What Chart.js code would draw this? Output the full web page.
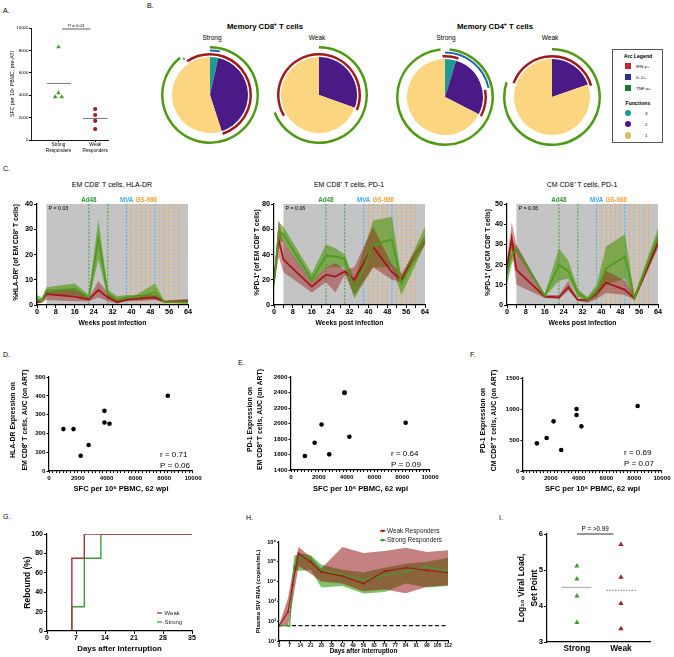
<!DOCTYPE html>
<html>
<head>
<meta charset="utf-8">
<script src="https://cdn.jsdelivr.net/npm/chart.js@4.4.1/dist/chart.umd.min.js"></script>
<style>
  html, body { margin: 0; padding: 0; background: #fff; }
  body { position: relative; width: 674px; height: 657px; overflow: hidden; color: #000; }
  canvas { position: absolute; }
  .t { position: absolute; white-space: nowrap; line-height: 1; }
  .box { position: absolute; border: 1px solid #555; box-sizing: border-box; }
  .sw { position: absolute; }
</style>
</head>
<body>
<script>
// ---------- data ----------

// A. SFC per 10^6 PBMC before ATI
const aGroups = [['Strong', 'Responders'], ['Weak', 'Responders']];
const aStrongSfc = [8300, 4200, 3850, 3850];
const aWeakSfc = [2770, 2230, 1700, 980];
const aTicks = [0, 2000, 4000, 6000, 8000, 10000];
const aPValue = 'P = 0.03';

// B. functional profile pies (% of cells with 3 / 2 / 1 functions)
const functionLabels = ['3', '2', '1'];
const arcLabels = ['IFN-γ+', 'IL-2+', 'TNF-α+'];
const cd8StrongPie = [3.5, 41.5, 55];
const cd8WeakPie = [0, 30.5, 69.5];
const cd4StrongPie = [4.7, 27.8, 67.5];
const cd4WeakPie = [0, 19.7, 80.3];
// arcs: [from, to] in % of cells around the pie
const cd8StrongIfn = [[90.5, 45]];
const cd8StrongIl2 = [[0, 3.5], [89.8, 90.3]];
const cd8StrongTnf = [[0, 89.2]];
const cd8WeakIfn = [[66.5, 31]];
const cd8WeakIl2 = [];
const cd8WeakTnf = [[0, 69]];
const cd4StrongIfn = [[99, 5.3], [22.2, 32.8]];
const cd4StrongIl2 = [[0, 21.7]];
const cd4StrongTnf = [[1.5, 98.5]];
const cd4WeakIfn = [[80.5, 20.5]];
const cd4WeakIl2 = [];
const cd4WeakTnf = [[0, 80]];

// C. time courses (weeks post infection)
const weekTicks = [0, 8, 16, 24, 32, 40, 48, 56, 64];
const artWeeks = [4, 64];
const ad48Weeks = [22, 30];
const mvaWeeks = [38, 50];
const gsWeeks = [40, 42, 44, 46, 48, 52, 54, 56, 58, 60];
const treatNames = ['Ad48', 'MVA', 'GS-986'];

const hlaWeeks = [0, 2, 4, 16, 22, 26, 30, 34, 38, 42, 50, 54, 64];
const hlaStrong = [2.2, 1.5, 5.5, 6.5, 3, 26.5, 4.5, 2, 3, 3, 5, 1.2, 1];
const hlaStrongHi = [4, 3, 7, 8.5, 4, 34, 6, 3.5, 4, 4, 8.5, 1.5, 1.8];
const hlaStrongLo = [1, 1, 4, 4, 2, 18, 3, 1, 2, 2, 2.5, 1, 0.5];
const hlaWeak = [1, 1.5, 4.3, 3.3, 2.2, 6, 3, 1.2, 2, 2.5, 3, 1.3, 1.5];
const hlaWeakHi = [1.5, 2.5, 6, 6, 3, 9.5, 5, 2, 3, 4, 4, 1.7, 2.5];
const hlaWeakLo = [0.5, 1, 2, 1.5, 1.5, 3, 1.5, 0.5, 1.5, 1.5, 2, 1, 1];
const hlaTicks = [0, 10, 20, 30, 40];

const pdEmWeeks = [0, 2, 4, 16, 22, 26, 30, 34, 42, 50, 54, 64];
const pdEmStrong = [17, 58, 56, 20, 39, 38.5, 36.5, 11, 47.5, 52, 17, 53];
const pdEmStrongHi = [22, 66, 62, 25, 48, 45, 40, 20, 67, 70, 22, 62];
const pdEmStrongLo = [12, 50, 50, 17, 30, 30, 30, 5, 30, 30, 8, 48];
const pdEmWeak = [20, 51.5, 36, 14.6, 24, 22.5, 26.5, 20, 46, 26, 20, 52];
const pdEmWeakHi = [24, 68, 50, 18, 30, 33, 28, 30, 62, 32, 25, 55];
const pdEmWeakLo = [16, 38, 26, 10, 18, 10, 24, 8, 30, 20, 18, 48];
const pdEmTicks = [0, 20, 40, 60, 80];

const pdCmWeeks = [0, 2, 4, 16, 22, 26, 30, 34, 38, 42, 50, 54, 64];
const pdCmStrong = [15.7, 24.8, 27.6, 4.5, 19.9, 16.6, 6.1, 2.8, 6.6, 18.2, 24, 3.3, 34];
const pdCmStrongHi = [20, 32, 29, 5.5, 28, 22, 8, 4, 10, 29, 35, 5, 38];
const pdCmStrongLo = [10, 20, 26, 4, 12, 13, 4, 1.5, 4, 10, 13, 2, 30];
const pdCmWeak = [19, 33, 17.4, 4.1, 3.8, 8.8, 2.5, 2.5, 5.8, 11, 7.5, 3.3, 30.6];
const pdCmWeakHi = [22, 41, 30, 5, 5, 12, 3, 3, 8, 17, 12, 5, 33];
const pdCmWeakLo = [15, 28, 10, 3.5, 3, 7, 2, 1, 3, 6, 5, 2.5, 28];
const pdCmTicks = [0, 10, 20, 30, 40, 50];
const cPValues = ['P = 0.03', 'P = 0.06', 'P = 0.06'];

// D-F. AUC on ART vs SFC at 62 wpi
const sfc62 = [1000, 1700, 2200, 2750, 3850, 3850, 4200, 8250];
const hlaAuc = [223, 223, 81, 138, 320, 258, 251, 400];
const pdEmAuc = [1580, 1752, 1988, 1602, 2400, 2395, 1829, 2009];
const pdCmAuc = [446, 532, 801, 339, 1000, 903, 720, 1048];
const sfcTicks = [0, 2000, 4000, 6000, 8000, 10000];
const hlaAucTicks = [0, 100, 200, 300, 400, 500];
const pdEmAucTicks = [1400, 1600, 1800, 2000, 2200, 2400, 2600];
const pdCmAucTicks = [0, 500, 1000, 1500];
const dStats = ['r = 0.71', 'P = 0.06'];
const eStats = ['r = 0.64', 'P = 0.09'];
const fStats = ['r = 0.69', 'P = 0.07'];

// G. rebound after interruption
const gGroups = ['Weak', 'Strong'];
const weakDays = [0, 6, 9, 35];
const weakRebound = [0, 75, 100, 100];
const strongDays = [0, 6, 9, 13, 35];
const strongRebound = [0, 25, 75, 100, 100];
const gDayTicks = [0, 7, 14, 21, 28, 35];
const gReboundTicks = [0, 20, 40, 60, 80, 100];

// H. plasma SIV RNA
const hGroups = ['Weak Responders', 'Strong Responders'];
const hWeakDays = [0, 6, 9, 13, 21, 28, 42, 56, 70, 84, 98, 112];
const hWeakVl = [60, 300, 6600, 260000, 98000, 31000, 19000, 8000, 33000, 50000, 37000, 28000];
const hWeakHi = [60, 1500, 30000, 560000, 170000, 46000, 560000, 280000, 350000, 510000, 310000, 380000];
const hWeakLo = [60, 60, 1000, 60000, 25000, 10000, 8000, 3300, 4000, 2600, 5500, 6600];
const hStrongDays = [0, 7, 10, 14, 21, 28, 42, 56, 70, 84, 98, 112];
const hStrongVl = [60, 60, 60000, 170000, 160000, 37000, 22000, 12000, 21000, 33000, 55000, 33000];
const hStrongHi = [60, 60, 200000, 260000, 220000, 70000, 40000, 30000, 50000, 80000, 100000, 160000];
const hStrongLo = [60, 60, 35000, 35000, 40000, 5000, 6000, 2500, 3000, 8000, 5000, 6000];
const hLod = 60;
const hDayTicks = [0, 7, 14, 21, 28, 35, 42, 49, 56, 63, 70, 77, 84, 91, 98, 105, 112];
const hVlTicks = [10, 100, 1000, 10000, 100000, 1000000];

// I. set point viral load
const iGroups = ['Strong', 'Weak'];
const iStrong = [5.11, 4.75, 4.28, 3.54];
const iWeak = [5.71, 4.8, 4.07, 3.37];
const iTicks = [3, 4, 5, 6];
const iPValue = 'P = >0.99';

// ---------- style ----------
const fam = "'Liberation Sans', Arial, Helvetica, sans-serif";
Chart.defaults.font.family = fam;
Chart.defaults.color = '#000';
Chart.defaults.animation = false;
Chart.defaults.events = [];
Chart.defaults.plugins.legend.display = false;
Chart.defaults.plugins.tooltip.enabled = false;

const GREEN = '#3f9c2c', RED = '#a31d22';
const NONE = 'rgba(0,0,0,0)';

function makeCanvas(l, t, w, h) {
  const c = document.createElement('canvas');
  c.width = w; c.height = h;
  c.style.left = l + 'px'; c.style.top = t + 'px';
  c.style.width = w + 'px'; c.style.height = h + 'px';
  document.body.appendChild(c);
  return c;
}

function label(str, x, y, font, align) {
  const d = document.createElement('div');
  d.className = 't';
  d.textContent = str;
  d.style.font = font;
  d.style.left = x + 'px';
  d.style.top = y + 'px';
  d.style.transform = align === 'left' ? 'translateY(-50%)' : 'translate(-50%, -50%)';
  document.body.appendChild(d);
}

const pts = (xs, ys) => xs.map((x, i) => ({x, y: ys[i]}));
const mean = a => a.reduce((s, v) => s + v, 0) / a.length;
const median = a => { const s = [...a].sort((p, q) => p - q); return (s[1] + s[2]) / 2; };

function scaleOpts(o, horizontal, size) {
  return {
    type: o.type || 'linear',
    min: o.min, max: o.max,
    afterBuildTicks: sc => { sc.ticks = o.ticks.map(v => ({value: v})); },
    afterFit: sc => { if (horizontal) sc.height = size; else sc.width = size; },
    ticks: {
      autoSkip: false, maxRotation: 0, minRotation: 0, padding: o.pad ?? 1,
      font: {size: o.fs, weight: o.weight || 'bold', lineHeight: o.lh || 1.15},
      color: '#000',
      callback: o.label || (v => v)
    },
    grid: {display: o.tickLen !== 0, drawOnChartArea: false, drawTicks: true,
      tickLength: o.tickLen ?? 3, color: '#000', lineWidth: 1},
    border: {display: true, color: '#000', width: o.bw || 1.2, z: 1},
    title: {display: !!o.title, text: o.title, color: '#000',
      font: {size: o.tfs, weight: o.tweight || 'bold', lineHeight: o.tlh || 1.2},
      padding: horizontal ? {top: 0, bottom: o.tpad || 0} : {top: o.tpad || 0, bottom: 0}}
  };
}

function plot(cfg) {
  const [cl, ct, cw, ch] = cfg.canvas;
  const [x0, y0, x1, y1] = cfg.area;
  return new Chart(makeCanvas(cl, ct, cw, ch), {
    type: 'line',
    data: {datasets: cfg.datasets},
    options: {
      responsive: false,
      layout: {padding: {left: 0, bottom: 0, top: y0 - ct, right: cl + cw - x1}},
      elements: {line: {tension: 0}, point: {radius: 0}},
      scales: {x: scaleOpts(cfg.x, true, ct + ch - y1), y: scaleOpts(cfg.y, false, x0 - cl)},
      plugins: cfg.opts || {}
    },
    plugins: cfg.plugins || []
  });
}

// significance bar with text
const bracketPlugin = {
  id: 'bracket',
  afterDatasetsDraw(chart, args, o) {
    const {ctx, scales: {x, y}} = chart;
    const py = y.getPixelForValue(o.y);
    ctx.save();
    ctx.strokeStyle = '#333'; ctx.lineWidth = o.lw;
    ctx.beginPath();
    ctx.moveTo(x.getPixelForValue(o.from), py);
    ctx.lineTo(x.getPixelForValue(o.to), py);
    ctx.stroke();
    ctx.font = `${o.fs}px ${fam}`; ctx.textAlign = 'center'; ctx.textBaseline = 'bottom'; ctx.fillStyle = '#000';
    ctx.fillText(o.text, x.getPixelForValue((o.from + o.to) / 2), py - o.gap);
    ctx.restore();
  }
};

// vertical axis title that may run past the plot height (no squeezing)
const sidePlugin = {
  id: 'side',
  afterDraw(chart, args, o) {
    const {ctx, chartArea: a} = chart;
    const cy = (a.top + a.bottom) / 2 + (o.dy || 0);
    ctx.save();
    ctx.font = `bold ${o.fs}px ${fam}`; ctx.fillStyle = '#000';
    ctx.textAlign = 'center'; ctx.textBaseline = 'middle';
    o.lines.forEach((t, i) => {
      ctx.save();
      ctx.translate(o.xs[i], cy);
      ctx.rotate(-Math.PI / 2);
      ctx.fillText(t, 0, 0);
      ctx.restore();
    });
    ctx.restore();
  }
};

// ART shading, vaccine / GS-986 dashed lines, P value
const treatPlugin = {
  id: 'treat',
  beforeDatasetsDraw(chart, args, o) {
    const {ctx, chartArea: a, scales: {x}} = chart;
    const px = w => x.getPixelForValue(w);
    ctx.save();
    ctx.fillStyle = '#c4c4c4';
    ctx.fillRect(px(artWeeks[0]), a.top, px(artWeeks[1]) - px(artWeeks[0]), a.bottom - a.top);
    ctx.lineWidth = 0.9;
    ctx.setLineDash([2, 1.5]);
    const vline = (w, c) => {
      const p = px(w);
      ctx.strokeStyle = c;
      ctx.beginPath(); ctx.moveTo(p, a.top); ctx.lineTo(p, a.bottom); ctx.stroke();
    };
    gsWeeks.forEach(w => vline(w, '#f5a53a'));
    ad48Weeks.forEach(w => vline(w, '#3a9a3a'));
    mvaWeeks.forEach(w => vline(w, '#4aa6e8'));
    ctx.setLineDash([]);
    ctx.font = `bold 6.3px ${fam}`; ctx.textBaseline = 'bottom'; ctx.textAlign = 'center';
    const ty = a.top - 1;
    ctx.fillStyle = '#2f9a35'; ctx.fillText(treatNames[0], px(ad48Weeks[0]), ty);
    ctx.fillStyle = '#3fa9f0'; ctx.fillText(treatNames[1], px(mvaWeeks[0]), ty);
    const mvaRight = px(mvaWeeks[0]) + ctx.measureText(treatNames[1]).width / 2;
    ctx.textAlign = 'left'; ctx.fillStyle = '#f5a033';
    ctx.fillText(treatNames[2], mvaRight + 2, ty);
    ctx.font = `5.3px ${fam}`; ctx.fillStyle = '#000'; ctx.textBaseline = 'middle';
    ctx.fillText(o.p, px(artWeeks[0]) + 2, a.top + 4.5);
    ctx.restore();
  }
};

// r / P text
const notePlugin = {
  id: 'note',
  afterDatasetsDraw(chart, args, o) {
    const {ctx, chartArea: a} = chart;
    ctx.save();
    ctx.font = `8px ${fam}`; ctx.textAlign = 'left'; ctx.textBaseline = 'middle'; ctx.fillStyle = '#000';
    o.lines.forEach((t, i) => ctx.fillText(t, a.right - o.dx, a.bottom - o.dy + i * 10.5));
    ctx.restore();
  }
};

// small in-plot legend
const keyPlugin = {
  id: 'key',
  afterDatasetsDraw(chart, args, o) {
    const {ctx, chartArea: a} = chart;
    ctx.save();
    ctx.font = `${o.fs}px ${fam}`; ctx.textBaseline = 'middle'; ctx.textAlign = 'left';
    o.items.forEach((it, i) => {
      const x = a.left + o.dx, y = a.top + o.dy + i * o.step;
      ctx.strokeStyle = it.color; ctx.lineWidth = 1.3;
      ctx.beginPath(); ctx.moveTo(x, y); ctx.lineTo(x + o.len, y); ctx.stroke();
      if (o.marker) {
        const m = x + o.len / 2;
        ctx.fillStyle = it.color;
        ctx.beginPath(); ctx.moveTo(m - 1.8, y - 1.3); ctx.lineTo(m + 1.8, y - 1.3); ctx.lineTo(m, y + 1.7); ctx.fill();
      }
      ctx.fillStyle = '#222';
      ctx.fillText(it.text, x + o.len + o.gap, y);
    });
    ctx.restore();
  }
};

// ---------- panel letters ----------
const letterFont = `7px ${fam}`;
label('A.', 3, 10, letterFont, 'left');
label('B.', 147, 5, letterFont, 'left');
label('C.', 3, 168, letterFont, 'left');
label('D.', 3, 354, letterFont, 'left');
label('E.', 238, 362, letterFont, 'left');
label('F.', 470, 354, letterFont, 'left');
label('G.', 3, 516, letterFont, 'left');
label('H.', 246, 517, letterFont, 'left');
label('I.', 499, 517, letterFont, 'left');

// ---------- A ----------
const aJitter = [0, 0, -0.09, 0.09];
plot({
  canvas: [0, 15, 115, 145], area: [31, 28, 108, 140],
  datasets: [
    {data: aStrongSfc.map((v, i) => ({x: 1 + aJitter[i], y: v})), showLine: false,
      pointStyle: 'triangle', pointRadius: 2.6, pointBackgroundColor: GREEN, pointBorderWidth: 0},
    {data: aWeakSfc.map(v => ({x: 2, y: v})), showLine: false,
      pointRadius: 2.1, pointBackgroundColor: RED, pointBorderWidth: 0},
    {data: [{x: 0.69, y: mean(aStrongSfc)}, {x: 1.34, y: mean(aStrongSfc)}], borderColor: '#555', borderWidth: 0.8},
    {data: [{x: 1.67, y: mean(aWeakSfc)}, {x: 2.34, y: mean(aWeakSfc)}], borderColor: '#555', borderWidth: 0.8}
  ],
  x: {min: 0.25, max: 2.35, ticks: [1, 2], label: (v, i) => aGroups[i], fs: 4.7, weight: 'normal',
    tickLen: 2, pad: 0.5, bw: 0.9},
  y: {min: 0, max: 10000, ticks: aTicks, fs: 4.4, weight: 'normal', tickLen: 2, pad: 0.5, bw: 0.9,
    title: 'SFC per 10⁶ PBMC, pre-ATI', tfs: 5.3, tweight: 'normal', tpad: 9.5},
  plugins: [bracketPlugin],
  opts: {bracket: {from: 1.1, to: 1.87, y: 9910, text: aPValue, fs: 4.3, lw: 0.8, gap: 1.5}}
});

// ---------- B ----------
const pieColors = ['#1f9a93', '#4c1a87', '#fcd581'];
const arcColors = {ifn: '#a01a1a', il2: '#1f63b0', tnf: '#4e9a12'};

function ringData(segments, color, weight) {
  const segs = [];
  segments.forEach(([s, e]) => {
    if (s <= e) segs.push([s, e]); else { segs.push([s, 100]); segs.push([0, e]); }
  });
  segs.sort((p, q) => p[0] - q[0]);
  const data = [], colors = [];
  let pos = 0;
  segs.forEach(([s, e]) => {
    if (s > pos) { data.push(s - pos); colors.push(NONE); }
    data.push(e - s); colors.push(color); pos = e;
  });
  if (pos < 100) { data.push(100 - pos); colors.push(NONE); }
  return {data, backgroundColor: colors, borderWidth: 0, weight};
}
const gapRing = w => ({data: [100], backgroundColor: [NONE], borderWidth: 0, weight: w});

function pieChart(cx, cy, slices, ifn, il2, tnf) {
  const size = 104;
  new Chart(makeCanvas(cx - size / 2, cy - size / 2, size, size), {
    type: 'doughnut',
    data: {
      labels: functionLabels,
      datasets: [
        ringData(tnf, arcColors.tnf, 2.5), gapRing(1),
        ringData(il2, arcColors.il2, 2), gapRing(1.5),
        ringData(ifn, arcColors.ifn, 2.5), gapRing(1.5),
        {data: slices, backgroundColor: pieColors, borderWidth: 0, weight: 38}
      ]
    },
    options: {responsive: false, radius: 49, cutout: 0, layout: {padding: 0}}
  });
}

pieChart(210, 95, cd8StrongPie, cd8StrongIfn, cd8StrongIl2, cd8StrongTnf);
pieChart(319, 95, cd8WeakPie, cd8WeakIfn, cd8WeakIl2, cd8WeakTnf);
pieChart(445, 97, cd4StrongPie, cd4StrongIfn, cd4StrongIl2, cd4StrongTnf);
pieChart(552, 97, cd4WeakPie, cd4WeakIfn, cd4WeakIl2, cd4WeakTnf);

label('Memory CD8⁺ T cells', 265, 26, `bold 7.7px ${fam}`);
label('Memory CD4⁺ T cells', 495, 26, `bold 7.7px ${fam}`);
label('Strong', 212, 37, `6.5px ${fam}`);
label('Weak', 317, 37, `6.5px ${fam}`);
label('Strong', 446, 37, `6.5px ${fam}`);
label('Weak', 550, 37, `6.5px ${fam}`);

const legendBox = document.createElement('div');
legendBox.className = 'box';
Object.assign(legendBox.style, {left: '612px', top: '49px', width: '51px', height: '94px'});
document.body.appendChild(legendBox);
function swatch(x, y, size, color, round) {
  const s = document.createElement('div');
  s.className = 'sw';
  Object.assign(s.style, {left: (x - size / 2) + 'px', top: (y - size / 2) + 'px', width: size + 'px',
    height: size + 'px', background: color, borderRadius: round ? '50%' : '0'});
  document.body.appendChild(s);
}
const legendArcColors = ['#c1272d', '#2e3192', '#167a3c'];
const legendFnColors = ['#1a9a9a', '#4a1488', '#dcbd66'];
label('Arc Legend', 638, 55.5, `bold 5.2px ${fam}`);
arcLabels.forEach((t, i) => {
  swatch(628, 66 + i * 11, 6, legendArcColors[i], false);
  label(t, 636, 66 + i * 11, `4.4px ${fam}`, 'left');
});
label('Functions', 638, 102.5, `bold 5.2px ${fam}`);
functionLabels.forEach((t, i) => {
  swatch(628, 113 + i * 11.2, 6.5, legendFnColors[i], true);
  label(t, 645, 113 + i * 11.2, `4.4px ${fam}`, 'left');
});

// ---------- C ----------
const weekMarks = [];
for (let w = 0; w <= 64; w += 4) weekMarks.push(w);
const C_GREEN = '#4d9c1c', C_RED = '#a4161a';
const C_GREEN_BAND = 'rgba(76,150,10,0.6)', C_RED_BAND = 'rgba(151,32,27,0.45)';

function timeCourse(p) {
  const w = p.weeks;
  return plot({
    canvas: p.canvas, area: p.area,
    datasets: [
      {data: pts(w, p.strong), borderColor: C_GREEN, borderWidth: 1.8, order: 0},
      {data: pts(w, p.weak), borderColor: C_RED, borderWidth: 1.8, order: 0},
      {data: pts(w, p.weakHi), fill: '+1', backgroundColor: C_RED_BAND, borderColor: NONE, borderWidth: 0, order: 1},
      {data: pts(w, p.weakLo), borderColor: NONE, borderWidth: 0, order: 1},
      {data: pts(w, p.strongHi), fill: '+1', backgroundColor: C_GREEN_BAND, borderColor: NONE, borderWidth: 0, order: 2},
      {data: pts(w, p.strongLo), borderColor: NONE, borderWidth: 0, order: 2}
    ],
    x: {min: 0, max: 64, ticks: weekMarks, label: v => weekTicks.includes(v) ? v : '', fs: 7.3,
      tickLen: 3, pad: 0, title: 'Weeks post infection', tfs: 6.8, tpad: 7.5},
    y: {min: 0, max: p.yTicks[p.yTicks.length - 1], ticks: p.yTicks, fs: 7.3, tickLen: 3, pad: 1},
    plugins: [treatPlugin, sidePlugin],
    opts: {treat: {p: p.pText}, side: {lines: [p.yTitle], xs: [p.yTitleX], fs: 6.6, dy: -2}}
  });
}

timeCourse({canvas: [0, 195, 197, 140], area: [37, 204, 188, 305], weeks: hlaWeeks,
  strong: hlaStrong, strongHi: hlaStrongHi, strongLo: hlaStrongLo,
  weak: hlaWeak, weakHi: hlaWeakHi, weakLo: hlaWeakLo,
  yTicks: hlaTicks, yTitle: '%HLA-DR⁺ (of EM CD8⁺ T cells)', yTitleX: 16, pText: cPValues[0]});
timeCourse({canvas: [228, 195, 206, 140], area: [274, 204, 425, 305], weeks: pdEmWeeks,
  strong: pdEmStrong, strongHi: pdEmStrongHi, strongLo: pdEmStrongLo,
  weak: pdEmWeak, weakHi: pdEmWeakHi, weakLo: pdEmWeakLo,
  yTicks: pdEmTicks, yTitle: '%PD-1⁺ (of EM CD8⁺ T cells)', yTitleX: 28.7, pText: cPValues[1]});
timeCourse({canvas: [462, 195, 210, 140], area: [507, 204, 658, 305], weeks: pdCmWeeks,
  strong: pdCmStrong, strongHi: pdCmStrongHi, strongLo: pdCmStrongLo,
  weak: pdCmWeak, weakHi: pdCmWeakHi, weakLo: pdCmWeakLo,
  yTicks: pdCmTicks, yTitle: '%PD-1⁺ (of CM CD8⁺ T cells)', yTitleX: 26.3, pText: cPValues[2]});

label('EM CD8⁺ T cells, HLA-DR', 112, 184, `7px ${fam}`);
label('EM CD8⁺ T cells, PD-1', 349, 184, `7px ${fam}`);
label('CM CD8⁺ T cells, PD-1', 582, 184, `7px ${fam}`);

// ---------- D / E / F ----------
const sfcMarks = [];
for (let v = 0; v <= 10000; v += 250) sfcMarks.push(v);

function aucPanel(p) {
  return plot({
    canvas: p.canvas, area: p.area,
    datasets: [{data: pts(sfc62, p.auc), showLine: false, pointRadius: 2.3,
      pointBackgroundColor: '#000', pointBorderWidth: 0}],
    x: {min: 0, max: 10000, ticks: sfcMarks, label: v => sfcTicks.includes(v) ? v : '', fs: 6.2,
      tickLen: 2, pad: 1.4, title: 'SFC per 10⁶ PBMC, 62 wpi', tfs: 7.6, tpad: 4.5},
    y: {min: p.yTicks[0], max: p.yTicks[p.yTicks.length - 1], ticks: p.yTicks, fs: 6.2,
      tickLen: 2.5, pad: 1},
    plugins: [notePlugin, sidePlugin],
    opts: {note: {lines: p.stats, dx: p.dx, dy: p.dy},
      side: {lines: p.yTitle, xs: p.yTitleX, fs: 6.9, dy: -4}}
  });
}

aucPanel({canvas: [0, 360, 203, 138], area: [49, 377, 193, 471], auc: hlaAuc, yTicks: hlaAucTicks,
  yTitle: ['HLA-DR Expression on', 'EM CD8⁺ T cells, AUC (on ART)'], yTitleX: [13.3, 25],
  stats: dStats, dx: 33, dy: 16});
aucPanel({canvas: [228, 360, 212, 138], area: [291, 377, 431, 470], auc: pdEmAuc, yTicks: pdEmAucTicks,
  yTitle: ['PD-1 Expression on', 'EM CD8⁺ T cells, AUC (on ART)'], yTitleX: [22, 32.5],
  stats: eStats, dx: 39, dy: 16});
aucPanel({canvas: [462, 360, 210, 138], area: [523, 378, 663, 471], auc: pdCmAuc, yTicks: pdCmAucTicks,
  yTitle: ['PD-1 Expression on', 'CM CD8⁺ T cells, AUC (on ART)'], yTitleX: [21.3, 31.8],
  stats: fStats, dx: 38, dy: 18});

// ---------- G ----------
const G_WEAK = '#a83236', G_STRONG = '#3c9e3c';
plot({
  canvas: [0, 525, 200, 132], area: [47, 534, 192, 631],
  datasets: [
    {data: pts(weakDays, weakRebound), stepped: 'before', borderColor: G_WEAK, borderWidth: 1.4},
    {data: pts(strongDays, strongRebound), stepped: 'before', borderColor: G_STRONG, borderWidth: 1.4}
  ],
  x: {min: 0, max: 35, ticks: gDayTicks, fs: 7, tickLen: 3, pad: 0,
    title: 'Days after Interruption', tfs: 7.9, tpad: 3},
  y: {min: 0, max: 100, ticks: gReboundTicks, fs: 7, tickLen: 3, pad: 1,
    title: 'Rebound (%)', tfs: 8.5, tpad: 23},
  plugins: [keyPlugin],
  opts: {key: {items: [{text: gGroups[0], color: G_WEAK}, {text: gGroups[1], color: G_STRONG}],
    dx: 110, dy: 79, step: 9, len: 5, gap: 2.5, fs: 6}}
});

// ---------- H ----------
const H_RED = '#a01a1a', H_GREEN = '#3aa030';
const supDigits = ['⁰', '¹', '²', '³', '⁴', '⁵', '⁶'];
plot({
  canvas: [228, 525, 226, 132], area: [279, 542, 448, 641],
  datasets: [
    {data: pts(hWeakDays, hWeakVl), borderColor: H_RED, borderWidth: 1.2, pointStyle: 'rect',
      pointRadius: 1.4, pointBackgroundColor: H_RED, pointBorderWidth: 0, order: 0},
    {data: pts(hStrongDays, hStrongVl), borderColor: H_GREEN, borderWidth: 1.2, pointStyle: 'triangle',
      pointRadius: 1.7, pointBackgroundColor: H_GREEN, pointBorderWidth: 0, order: 0},
    {data: [{x: hDayTicks[0], y: hLod}, {x: hDayTicks[hDayTicks.length - 1], y: hLod}],
      borderColor: '#111', borderWidth: 1.2, borderDash: [4, 2.5], order: 0},
    {data: pts(hWeakDays, hWeakHi), fill: '+1', backgroundColor: 'rgba(150,25,25,0.55)',
      borderColor: NONE, borderWidth: 0, order: 1},
    {data: pts(hWeakDays, hWeakLo), borderColor: NONE, borderWidth: 0, order: 1},
    {data: pts(hStrongDays, hStrongHi), fill: '+1', backgroundColor: 'rgba(70,170,40,0.7)',
      borderColor: NONE, borderWidth: 0, order: 2},
    {data: pts(hStrongDays, hStrongLo), borderColor: NONE, borderWidth: 0, order: 2}
  ],
  x: {min: 0, max: 112, ticks: hDayTicks, fs: 4.8, tickLen: 2, pad: 0,
    title: 'Days after Interruption', tfs: 6.3, tpad: 1.5},
  y: {type: 'logarithmic', min: 10, max: 1000000, ticks: hVlTicks,
    label: v => '10' + supDigits[Math.round(Math.log10(v))], fs: 5.6, tickLen: 2, pad: 1,
    title: 'Plasma SIV RNA (copies/mL)', tfs: 6.1, tpad: 27},
  plugins: [keyPlugin],
  opts: {key: {items: [{text: hGroups[0], color: H_RED}, {text: hGroups[1], color: H_GREEN}],
    dx: 101, dy: -11, step: 9.3, len: 5.5, gap: 1.5, fs: 6.4, marker: true}}
});

// ---------- I ----------
plot({
  canvas: [470, 525, 192, 132], area: [547, 534, 650, 642],
  datasets: [
    {data: iStrong.map(v => ({x: 1, y: v})), showLine: false, pointStyle: 'triangle', pointRadius: 3,
      pointBackgroundColor: GREEN, pointBorderWidth: 0},
    {data: iWeak.map(v => ({x: 2, y: v})), showLine: false, pointStyle: 'triangle', pointRadius: 3,
      pointBackgroundColor: RED, pointBorderWidth: 0},
    {data: [{x: 0.65, y: median(iStrong)}, {x: 1.33, y: median(iStrong)}], borderColor: '#b5b5b5', borderWidth: 1.3},
    {data: [{x: 1.67, y: median(iWeak)}, {x: 2.34, y: median(iWeak)}], borderColor: '#999',
      borderWidth: 1.2, borderDash: [1.5, 1.3]}
  ],
  x: {min: 0.32, max: 2.66, ticks: [1, 2], label: (v, i) => iGroups[i], fs: 8.3, tickLen: 0, pad: 1.5},
  y: {min: 3, max: 6, ticks: iTicks, fs: 7.8, tickLen: 3, pad: 1,
    title: ['Log₁₀ Viral Load,', 'Set Point'], tfs: 8.5, tlh: 1.56, tpad: 45},
  plugins: [bracketPlugin],
  opts: {bracket: {from: 1, to: 1.83, y: 6, text: iPValue, fs: 6.3, lw: 1, gap: 1.5}}
});
</script>
</body>
</html>
